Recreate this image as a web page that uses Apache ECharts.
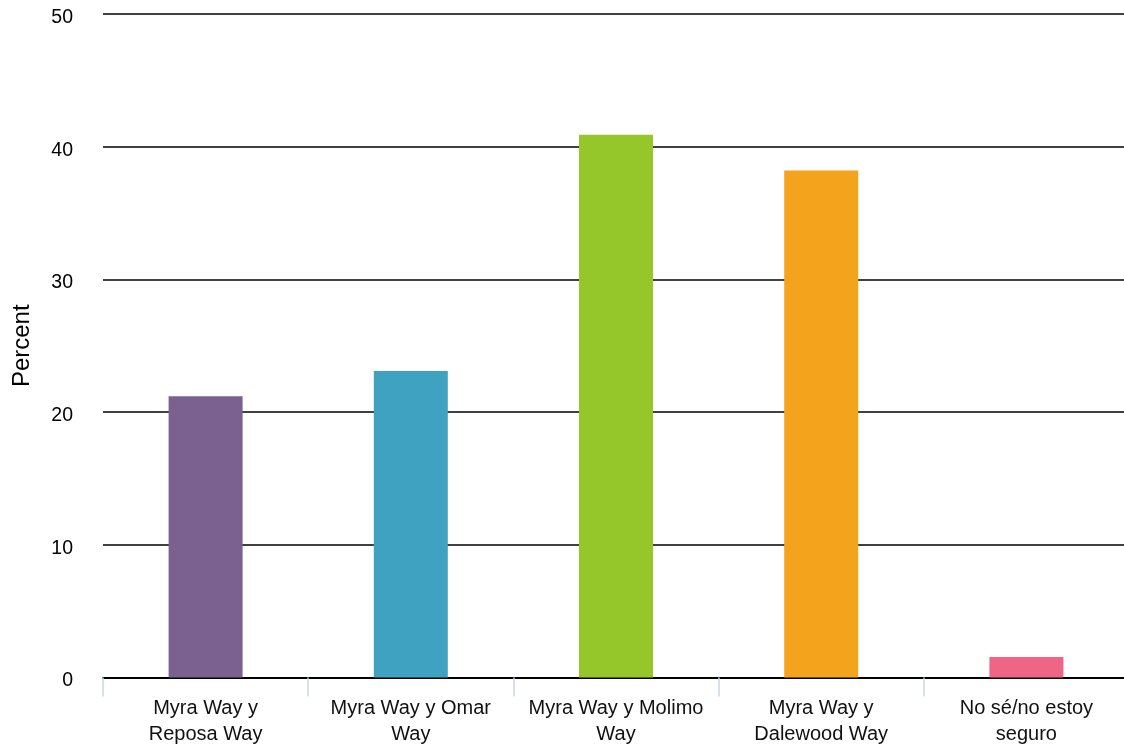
<!DOCTYPE html>
<html><head><meta charset="utf-8">
<script src="https://cdn.jsdelivr.net/npm/echarts@6/dist/echarts.min.js"></script>
<style>html,body{margin:0;padding:0;background:#fff}#c{width:1124px;height:749px}</style>
</head><body><div id="c"></div>
<script>
const categories = ["Myra Way y\nReposa Way", "Myra Way y Omar\nWay", "Myra Way y Molimo\nWay", "Myra Way y\nDalewood Way", "No sé/no estoy\nseguro"];
const values = [21.2, 23.1, 40.9, 38.2, 1.55];
const colors = ["#7b6190", "#40a2c1", "#96c72a", "#f4a41c", "#f06485"];
const yAxisName = "Percent";

const chart = echarts.init(document.getElementById('c'));
chart.setOption({
  animation: false,
  grid: { left: 103, width: 1026, top: 14, height: 663.5, outerBoundsMode: 'none', containLabel: false },
  xAxis: {
    type: 'category',
    data: categories,
    axisLine: { lineStyle: { color: '#000', width: 2 } },
    axisTick: { show: true, length: 19, lineStyle: { color: '#ccd6eb', width: 1.5 } },
    axisLabel: { color: '#111', fontFamily: 'Liberation Sans, Arial', fontSize: 20, lineHeight: 26, margin: 18, interval: 0 }
  },
  yAxis: {
    type: 'value', min: 0, max: 50, interval: 10,
    name: yAxisName, nameLocation: 'middle', nameGap: 69,
    nameTextStyle: { color: '#000', fontFamily: 'Liberation Sans, Arial', fontSize: 24 },
    axisLine: { show: false }, axisTick: { show: false },
    axisLabel: {
      margin: 30,
      formatter: '{a|{value}}',
      rich: { a: { color: '#000', fontFamily: 'Liberation Sans, Arial', fontSize: 19.5, padding: [7, 0, 0, 0] } }
    },
    splitLine: { lineStyle: { color: '#000', width: 1.5 } }
  },
  series: [{
    type: 'bar',
    data: values.map((v, i) => ({ value: v, itemStyle: { color: colors[i] } })),
    barWidth: 74
  }]
});
</script></body></html>
